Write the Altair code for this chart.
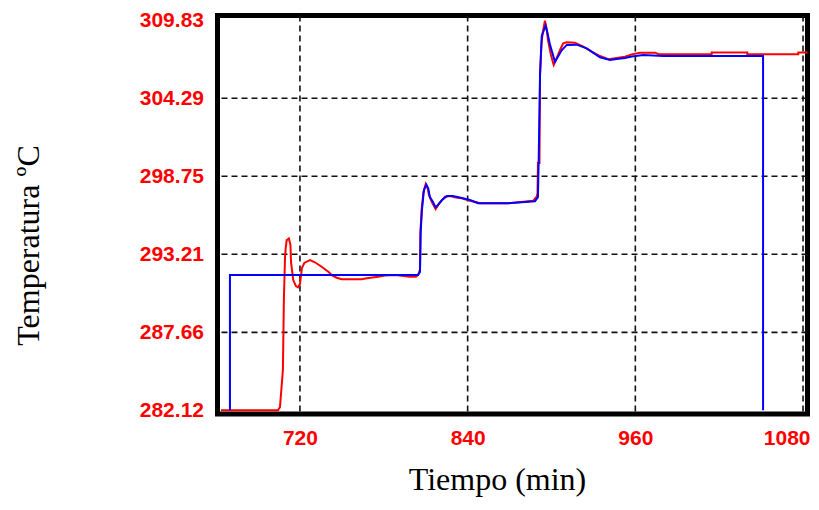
import altair as alt
import pandas as pd

# Red series (measured temperature)
red_t = [663.5, 704.3, 705.7, 707.8, 708.5, 709.3, 709.8, 710.5, 712.1, 713.2, 713.6, 715.2, 717.1, 718.6,
         720.0, 721.4, 723.1, 727.2, 730.7, 735.5, 740.3, 742.7, 746.3, 749.8, 764.2, 767.8, 776.0, 780.8,
         788.0, 798.7, 803.0, 804.5, 805.9, 806.2, 807.1, 808.4, 810.0, 811.4, 812.3, 814.3, 817.1, 819.0,
         821.4, 823.8, 827.4, 830.9, 835.7, 841.7, 846.5, 848.8, 869.1, 887.0, 889.4, 890.0, 890.3, 891.4,
         891.8, 892.8, 893.7, 895.3, 896.4, 897.5, 899.6, 901.6, 903.2, 906.1, 908.4, 910.9, 916.8, 922.8,
         928.8, 934.7, 940.7, 947.8, 952.6, 957.4, 963.3, 974.1, 976.4, 1014.6, 1014.6, 1040.1, 1040.1,
         1076.6, 1076.6, 1083.2]
red_v = [282.12, 282.12, 282.35, 284.98, 289.96, 292.96, 293.65, 294.21, 294.33, 293.87, 292.66, 291.38, 290.95, 290.86,
         291.09, 292.23, 292.59, 292.80, 292.64, 292.32, 291.97, 291.73, 291.54, 291.43, 291.43, 291.50, 291.61, 291.70,
         291.73, 291.61, 291.61, 291.73, 292.12, 294.79, 296.42, 297.63, 298.20, 297.89, 297.42, 296.94, 296.42, 296.71,
         297.01, 297.30, 297.35, 297.25, 297.18, 297.01, 296.90, 296.83, 296.83, 297.01, 297.30, 297.54, 299.69, 299.69,
         305.94, 308.08, 308.93, 309.80, 309.28, 308.43, 307.36, 306.65, 307.01, 307.72, 308.20, 308.27, 308.24, 307.96,
         307.60, 307.29, 307.06, 307.17, 307.24, 307.41, 307.53, 307.53, 307.44, 307.41, 307.54, 307.54, 307.41,
         307.41, 307.54, 307.54]

# Blue series (set point / model)
blue_t = [669.9, 669.9, 804.5, 805.9, 806.4, 807.3, 808.7, 810.5, 811.8, 813.0, 815.2, 817.0, 818.6, 821.6,
          825.2, 829.5, 835.9, 841.7, 847.4, 868.9, 888.2, 890.3, 890.8, 891.8, 893.0, 895.8, 897.0, 898.9,
          902.5, 904.9, 907.3, 910.9, 918.0, 925.2, 934.7, 941.9, 946.7, 952.6, 957.4, 965.7, 980.0, 1051.4,
          1051.4]
blue_v = [282.12, 291.73, 291.73, 291.95, 294.79, 296.35, 297.77, 298.15, 297.90, 297.27, 296.92, 296.55, 296.70, 297.06,
          297.34, 297.34, 297.20, 297.06, 296.84, 296.84, 296.98, 297.27, 299.69, 305.94, 308.70, 309.46, 309.00, 308.10,
          306.89, 307.30, 307.70, 308.08, 308.10, 307.84, 307.20, 307.01, 307.08, 307.15, 307.26, 307.36, 307.29, 307.29,
          282.12]

x_ticks = [720, 840, 960, 1080]
y_ticks = [282.12, 287.66, 293.21, 298.75, 304.29, 309.83]
x_grid = [720, 840, 960, 1080]
y_grid = [287.66, 293.21, 298.75, 304.29]

x_dom = [661.0, 1083.2]
y_dom = [281.86, 310.17]

red_df = pd.DataFrame({"t": red_t, "v": red_v, "i": range(len(red_t))})
blue_df = pd.DataFrame({"t": blue_t, "v": blue_v, "i": range(len(blue_t))})
xg_df = pd.DataFrame({"t": x_grid})
yg_df = pd.DataFrame({"v": y_grid})

xs = alt.Scale(domain=x_dom, zero=False, nice=False)
ys = alt.Scale(domain=y_dom, zero=False, nice=False)

lab_font = "Liberation Sans"

x_axis = alt.Axis(values=x_ticks, title="Tiempo (min)", grid=False, ticks=False, tickSize=0, domain=False,
                  labelColor="#ff0000", labelFont=lab_font, labelFontWeight="bold", labelFontSize=21,
                  labelPadding=13, labelFlush=10, labelFlushOffset=7, format="d",
                  titleFont="Liberation Serif", titleFontSize=32, titleFontWeight="normal", titleColor="black",
                  titleX=279.5, titleY=75, titleBaseline="alphabetic", titleAlign="center")
y_axis = alt.Axis(values=y_ticks, title="Temperatura ºC", grid=False, ticks=False, tickSize=0, domain=False,
                  labelColor="#ff0000", labelFont=lab_font, labelFontWeight="bold", labelFontSize=21,
                  labelPadding=14, labelFlush=False, format=".2f",
                  titleFont="Liberation Serif", titleFontSize=32, titleFontWeight="normal", titleColor="black",
                  titleX=-189.5, titleY=229.5, titleAngle=-90, titleAlign="center", titleBaseline="middle")

X = alt.X("t:Q", scale=xs, axis=x_axis)
Y = alt.Y("v:Q", scale=ys, axis=y_axis)

xgrid = alt.Chart(xg_df).mark_rule(color="#111111", strokeWidth=1.6, strokeDash=[6, 4]).encode(x=X)
ygrid = alt.Chart(yg_df).mark_rule(color="#111111", strokeWidth=1.6, strokeDash=[6, 4]).encode(y=Y)

red = alt.Chart(red_df).mark_line(color="#ff0000", strokeWidth=2, interpolate="linear").encode(
    x=X, y=Y, order="i:Q")
blue = alt.Chart(blue_df).mark_line(color="#0000ff", strokeWidth=2, interpolate="linear").encode(
    x=X, y=Y, order="i:Q")

chart = alt.layer(xgrid, ygrid, red, blue).properties(
    width=590, height=398.5,
    padding={"left": 209.5, "top": 7.5, "right": 2.5, "bottom": 83},
    autosize="none",
    background="white",
).configure_view(stroke="black", strokeWidth=5)

chart.save("out.html", embed_options={"renderer": "svg", "actions": False})
